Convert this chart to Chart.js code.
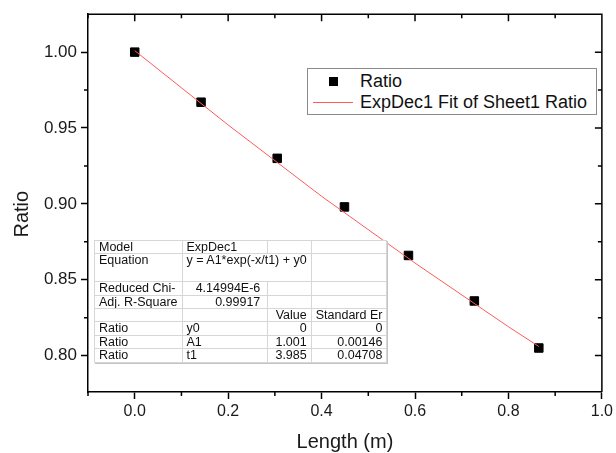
<!DOCTYPE html>
<html lang="en">
<head>
    <meta charset="UTF-8">
    <title>Ratio vs Length</title>
    <style>
        body { margin: 0; background: #fff; }
        .wrap { position: relative; width: 616px; height: 453px; font-family: "Liberation Sans", Arial, sans-serif; }
        #legend { position: absolute; left: 307px; top: 68px; width: 288px; height: 45px; border: 1px solid #8a8a8a; background: #fff; font-size: 18px; color: #111; }
        #legend .item { position: absolute; left: 0; width: 100%; height: 20px; line-height: 20px; }
        #legend .label { position: absolute; left: 52px; top: 0; white-space: nowrap; }
        #fitTable { position: absolute; left: 94px; top: 240px; border-collapse: collapse; table-layout: fixed; font-size: 12.5px; color: #111; background: #fff; border: 1px solid #9a9a9a; box-shadow: 1px 1px 0 #c4c4c4; }
        #fitTable td { border: 1px solid #d6d6d6; height: 12.4px; line-height: 12.4px; padding: 0 4px; white-space: nowrap; overflow: hidden; }
        #fitTable td.num { text-align: right; }
        #fitTable td.num2 { text-align: right; padding-right: 7px; }
        #fitTable tr.tall td { height: 26.8px; vertical-align: top; }
    </style>
</head>
<body>
    <div class="wrap">
        <canvas id="myChart" width="616" height="453"></canvas>
        <div id="legend"></div>
        <table id="fitTable"></table>
    </div>
    <script src="https://cdn.jsdelivr.net/npm/chart.js@4/dist/chart.umd.min.js"></script>
    <script>
        // measured points
        var lengths = [0, 0.142, 0.305, 0.449, 0.586, 0.727, 0.865];
        var ratios = [1.000, 0.967, 0.930, 0.898, 0.866, 0.836, 0.805];

        // fitted curve
        var fitLengths = [0, 0.2, 0.4, 0.6, 0.8, 0.865];
        var fitRatios = [1.001, 0.952, 0.905, 0.861, 0.819, 0.806];

        var xTicks = [0, 0.2, 0.4, 0.6, 0.8, 1.0];
        var xMinor = [-0.1, 0.1, 0.3, 0.5, 0.7, 0.9];
        var yTicks = [0.80, 0.85, 0.90, 0.95, 1.00];
        var yMinor = [0.825, 0.875, 0.925, 0.975];

        var tableRows = [
            ['Model', 'ExpDec1', '', ''],
            ['Equation', 'y = A1*exp(-x/t1) + y0', '', ''],
            ['Reduced Chi-', '4.14994E-6', '', ''],
            ['Adj. R-Square', '0.99917', '', ''],
            ['', '', 'Value', 'Standard Er'],
            ['Ratio', 'y0', '0', '0'],
            ['Ratio', 'A1', '1.001', '0.00146'],
            ['Ratio', 't1', '3.985', '0.04708']
        ];
        var tableCols = [85, 85, 43, 72];

        var pointSeries = lengths.map(function (v, i) { return {x: v, y: ratios[i]}; });
        var fitSeries = fitLengths.map(function (v, i) { return {x: v, y: fitRatios[i]}; });

        // top/right frame, inward ticks and minor ticks
        var framePlugin = {
            id: 'frame',
            afterDraw: function (chart) {
                var ctx = chart.ctx, a = chart.chartArea, x = chart.scales.x, y = chart.scales.y;
                ctx.save();
                ctx.strokeStyle = '#000';
                ctx.lineWidth = 1.5;
                ctx.beginPath();
                ctx.moveTo(a.left, a.top);
                ctx.lineTo(a.right, a.top);
                ctx.lineTo(a.right, a.bottom);
                xTicks.forEach(function (v) {
                    var px = x.getPixelForValue(v);
                    ctx.moveTo(px, a.top);
                    ctx.lineTo(px, a.top + 7);
                });
                xMinor.forEach(function (v) {
                    var px = x.getPixelForValue(v);
                    ctx.moveTo(px, a.top);
                    ctx.lineTo(px, a.top + 4);
                    ctx.moveTo(px, a.bottom);
                    ctx.lineTo(px, a.bottom + 4);
                });
                yTicks.forEach(function (v) {
                    var py = y.getPixelForValue(v);
                    ctx.moveTo(a.right, py);
                    ctx.lineTo(a.right - 7, py);
                });
                yMinor.forEach(function (v) {
                    var py = y.getPixelForValue(v);
                    ctx.moveTo(a.left, py);
                    ctx.lineTo(a.left - 4, py);
                    ctx.moveTo(a.right, py);
                    ctx.lineTo(a.right - 4, py);
                });
                ctx.stroke();
                ctx.restore();
            }
        };

        Chart.defaults.font.family = '"Liberation Sans", Arial, sans-serif';
        Chart.defaults.color = '#1a1a1a';

        var myChart = new Chart(document.getElementById('myChart').getContext('2d'), {
            type: 'scatter',
            data: {
                datasets: [
                    {
                        label: 'ExpDec1 Fit of Sheet1 Ratio',
                        type: 'line',
                        data: fitSeries,
                        borderColor: '#ff5a5a',
                        borderWidth: 1,
                        pointRadius: 0,
                        fill: false,
                        tension: 0
                    },
                    {
                        label: 'Ratio',
                        data: pointSeries,
                        pointStyle: 'rect',
                        pointRadius: 6,
                        backgroundColor: '#000',
                        borderColor: '#000',
                        borderWidth: 1
                    }
                ]
            },
            options: {
                responsive: false,
                animation: false,
                layout: { padding: { top: 10, right: 12, left: 0, bottom: 0 } },
                plugins: { legend: { display: false }, tooltip: { enabled: false } },
                scales: {
                    x: {
                        type: 'linear',
                        min: -0.1,
                        max: 1.0,
                        afterBuildTicks: function (s) { s.ticks = xTicks.map(function (v) { return {value: v}; }); },
                        afterFit: function (s) { s.height = 61; },
                        ticks: { font: { size: 16 }, padding: 3, callback: function (v) { return v.toFixed(1); } },
                        grid: { drawOnChartArea: false, tickLength: 7, tickColor: '#000', tickWidth: 1.5 },
                        border: { color: '#000', width: 1.5 },
                        title: { display: true, text: 'Length (m)', font: { size: 20 }, padding: { top: 0, bottom: -1 } }
                    },
                    y: {
                        type: 'linear',
                        min: 0.776,
                        max: 1.025,
                        afterBuildTicks: function (s) { s.ticks = yTicks.map(function (v) { return {value: v}; }); },
                        afterFit: function (s) { s.width = 88; },
                        ticks: { font: { size: 17 }, padding: 4, callback: function (v) { return v.toFixed(2); } },
                        grid: { drawOnChartArea: false, tickLength: 7, tickColor: '#000', tickWidth: 1.5 },
                        border: { color: '#000', width: 1.5 },
                        title: { display: true, text: 'Ratio    ', font: { size: 20 }, padding: { top: 10, bottom: 0 } }
                    }
                }
            },
            plugins: [framePlugin]
        });

        // legend box, points first then the fit line
        var legend = document.getElementById('legend');
        [1, 0].forEach(function (idx, row) {
            var ds = myChart.data.datasets[idx];
            var item = document.createElement('div');
            item.className = 'item';
            item.style.top = (row === 0 ? 2 : 23) + 'px';
            var sw = document.createElement('span');
            sw.style.position = 'absolute';
            if (ds.type === 'line') {
                sw.style.left = '5px'; sw.style.top = '10px';
                sw.style.width = '40px'; sw.style.height = '1px';
                sw.style.background = ds.borderColor;
            } else {
                sw.style.left = '21px'; sw.style.top = '6px';
                sw.style.width = '9px'; sw.style.height = '9px';
                sw.style.background = ds.backgroundColor;
            }
            var lab = document.createElement('span');
            lab.className = 'label';
            lab.textContent = ds.label;
            item.appendChild(sw);
            item.appendChild(lab);
            legend.appendChild(item);
        });

        // fit results table
        var table = document.getElementById('fitTable');
        var colgroup = document.createElement('colgroup');
        tableCols.forEach(function (w) {
            var c = document.createElement('col');
            c.style.width = w + 'px';
            colgroup.appendChild(c);
        });
        table.appendChild(colgroup);
        tableRows.forEach(function (r, i) {
            var tr = document.createElement('tr');
            if (i === 1) tr.className = 'tall';
            for (var j = 0; j < r.length; j++) {
                var td = document.createElement('td');
                td.textContent = r[j];
                if (i === 1 && j === 1) { td.colSpan = 2; j++; }
                else if (j >= 2) td.className = 'num';
                else if (j === 1 && /^[\d.E-]+$/.test(r[j])) td.className = 'num2';
                tr.appendChild(td);
            }
            table.appendChild(tr);
        });
    </script>
</body>
</html>
